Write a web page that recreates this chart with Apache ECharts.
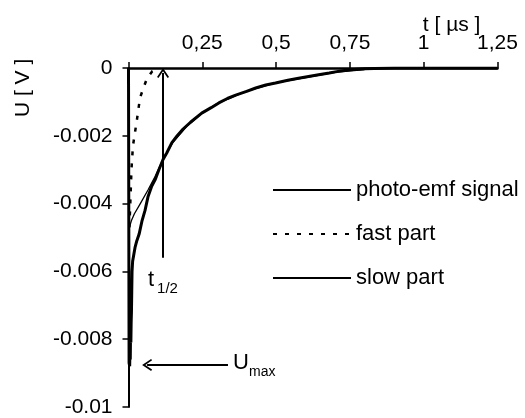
<!DOCTYPE html>
<html>
<head>
<meta charset="utf-8">
<script src="https://cdn.jsdelivr.net/npm/echarts@6/dist/echarts.min.js"></script>
<style>
  html, body { margin: 0; padding: 0; background: #fff; }
  #chart { width: 525px; height: 418px; }
</style>
</head>
<body>
<div id="chart"></div>
<script>
const FONT = '"Liberation Sans", Arial, Helvetica, sans-serif';

// measured photo-emf transient: time [µs] and voltage [V]
const signalT = [0, 0.002, 0.004, 0.005, 0.006, 0.007, 0.008, 0.009, 0.010, 0.011, 0.012, 0.014, 0.018, 0.022, 0.028, 0.036, 0.046, 0.056, 0.066, 0.078, 0.090, 0.103, 0.117, 0.130, 0.147, 0.165, 0.185, 0.210, 0.248, 0.280, 0.306, 0.335, 0.363, 0.400, 0.431, 0.465, 0.498, 0.540, 0.576, 0.610, 0.644, 0.680, 0.710, 0.750, 0.800, 0.900, 1.000, 1.100, 1.250];
const signalU = [0, -0.0087, -0.0088, -0.0082, -0.0086, -0.0078, -0.0081, -0.0075, -0.0072, -0.0066, -0.0060, -0.0057, -0.0055, -0.0053, -0.0051, -0.0049, -0.0045, -0.0042, -0.0038, -0.0035, -0.0033, -0.0030, -0.0027, -0.0025, -0.0022, -0.0020, -0.0018, -0.0016, -0.00133, -0.00117, -0.00103, -0.0009, -0.0008, -0.00069, -0.00059, -0.0005, -0.00044, -0.00036, -0.0003, -0.00025, -0.0002, -0.00015, -0.0001, -0.00005, -0.00002, 0, 0, 0, 0];

// fast component
const fastT = [0.003, 0.006, 0.010, 0.015, 0.022, 0.029, 0.039, 0.050, 0.063, 0.080, 0.100];
const fastU = [-0.0047, -0.0040, -0.0030, -0.0023, -0.0019, -0.0015, -0.00088, -0.0006, -0.0003, -0.0001, 0];

// slow component
const slowT = [0.003, 0.010, 0.020, 0.040, 0.066, 0.090, 0.117, 0.150, 0.200, 0.250, 0.300, 0.400, 0.500, 0.600, 0.700, 0.800];
const slowU = [-0.0047, -0.0045, -0.0043, -0.0040, -0.0036, -0.0032, -0.0027, -0.0022, -0.0017, -0.00133, -0.00105, -0.00068, -0.00044, -0.00028, -0.00013, -0.00005];

const seriesNames = ['photo-emf signal', 'fast part', 'slow part'];
const xTickLabels = ['', '0,25', '0,5', '0,75', '1', '1,25'];
const yTickLabels = ['-0.01', '-0.008', '-0.006', '-0.004', '-0.002', '0'];

// annotation anchors
const T_HALF = 0.117;          // half-decay time marker
const T_HALF_FOOT = -0.0056;   // lower end of the t1/2 marker
const U_MAX = -0.00876;        // peak amplitude marker
const U_MAX_ARROW = [0.337, 0.063];

const zip = (xs, ys) => xs.map((x, i) => [x, ys[i]]);
const chevron = 'path://M6,0 L12,9 L10.6,10 L6,3.2 L1.4,10 L0,9 Z';

const chart = echarts.init(document.getElementById('chart'));
chart.setOption({
  backgroundColor: '#fff',
  animation: false,
  textStyle: { fontFamily: FONT, color: '#000' },
  grid: { left: 128.5, right: 27.5, top: 68, bottom: 11, containLabel: false },
  legend: {
    orient: 'vertical',
    left: 267,
    top: 174,
    itemWidth: 78,
    itemHeight: 14,
    itemGap: 22,
    selectedMode: false,
    itemStyle: { opacity: 0 },
    textStyle: { fontSize: 22, color: '#000', fontFamily: FONT },
    data: seriesNames
  },
  xAxis: {
    type: 'value',
    position: 'top',
    min: 0,
    max: 1.25,
    interval: 0.25,
    axisLine: { lineStyle: { color: '#000', width: 2.5 } },
    axisTick: { show: true, length: 6, lineStyle: { color: '#000', width: 1.5 } },
    axisLabel: {
      margin: 14, fontSize: 21, color: '#000', fontFamily: FONT,
      formatter: (v, i) => xTickLabels[i]
    },
    splitLine: { show: false }
  },
  yAxis: {
    type: 'value',
    min: -0.01,
    max: 0,
    interval: 0.002,
    axisLine: { show: true, lineStyle: { color: '#000', width: 2 } },
    axisTick: { show: true, length: 6, lineStyle: { color: '#000', width: 1.5 } },
    axisLabel: {
      margin: 16, fontSize: 21, color: '#000', fontFamily: FONT,
      formatter: (v, i) => yTickLabels[i]
    },
    splitLine: { show: false }
  },
  series: [
    {
      name: seriesNames[1],
      type: 'line',
      data: zip(fastT, fastU),
      symbol: 'none',
      lineStyle: { color: '#000', width: 2.5, type: [4, 8] },
      itemStyle: { color: '#000' },
      z: 2
    },
    {
      name: seriesNames[2],
      type: 'line',
      data: zip(slowT, slowU),
      symbol: 'none',
      lineStyle: { color: '#000', width: 1.3 },
      itemStyle: { color: '#000' },
      z: 2
    },
    {
      name: seriesNames[0],
      type: 'line',
      data: zip(signalT, signalU),
      symbol: 'none',
      lineStyle: { color: '#000', width: 3 },
      itemStyle: { color: '#000' },
      z: 3,
      markLine: {
        silent: true,
        animation: false,
        symbol: ['none', chevron],
        symbolSize: [12, 10],
        label: { show: false },
        lineStyle: { color: '#000', width: 2, type: 'solid' },
        data: [
          [{ coord: [T_HALF, T_HALF_FOOT] }, { coord: [T_HALF, -0.00015] }],
          [{ coord: [U_MAX_ARROW[0], U_MAX] }, { coord: [U_MAX_ARROW[1], U_MAX] }]
        ]
      }
    }
  ]
});

// axis titles and marker labels, positioned through the chart's own coordinate system
const px = (p) => chart.convertToPixel({ gridIndex: 0 }, p);
const tFoot = px([T_HALF, T_HALF_FOOT]);
const uTail = px([U_MAX_ARROW[0], U_MAX]);
const xTitle = px([1.125, 0]);
const yTitle = px([0, -0.001]);
const txt = (x, y, text, size, align, vAlign, rot) => ({
  type: 'text', x, y, rotation: rot || 0, silent: true,
  style: { text, fill: '#000', font: size + 'px ' + FONT, textAlign: align, textVerticalAlign: vAlign }
});
chart.setOption({
  graphic: [
    txt(xTitle[0] - 9, xTitle[1] - 43, 't [ µs ]', 21, 'center', 'middle'),
    txt(yTitle[0] - 105, yTitle[1] - 14, 'U [ V ]', 21, 'center', 'middle', Math.PI / 2),
    txt(tFoot[0] - 15, tFoot[1] + 33, 't', 22, 'left', 'bottom'),
    txt(tFoot[0] - 6, tFoot[1] + 39, '1/2', 15, 'left', 'bottom'),
    txt(uTail[0] + 5, uTail[1] + 9, 'U', 22, 'left', 'bottom'),
    txt(uTail[0] + 21, uTail[1] + 14, 'max', 14, 'left', 'bottom')
  ]
});
</script>
</body>
</html>
